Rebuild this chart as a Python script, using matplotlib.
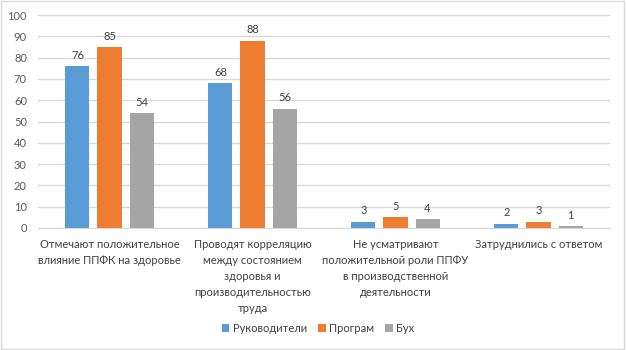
import matplotlib
matplotlib.use("Agg")
import matplotlib.pyplot as plt
import numpy as np
from matplotlib.patches import Rectangle

categories = [
    "Отмечают положительное\nвлияние ППФК на здоровье",
    "Проводят корреляцию\nмежду состоянием\nздоровья и\nпроизводительностью\nтруда",
    "Не усматривают\nположительной роли ППФУ\nв производственной\nдеятельности",
    "Затруднились с ответом",
]
series_names = ["Руководители", "Програм", "Бух"]
rukovoditeli = [76, 68, 3, 2]
program = [85, 88, 5, 3]
buh = [54, 56, 4, 1]
colors = ["#5B9BD5", "#ED7D31", "#A5A5A5"]
yticks = list(range(0, 101, 10))

plt.rcParams['font.family'] = ['Lato', 'DejaVu Sans']
fig = plt.figure(figsize=(6.26, 3.5), dpi=100)
ax = fig.add_axes([38/626, 1-228/350, (610-38)/626, (228-15)/350])

x = np.arange(len(categories))
w = 0.168
step = 0.224
for i, (vals, name, c) in enumerate(zip([rukovoditeli, program, buh], series_names, colors)):
    pos = x + (i - 1) * step
    bars = ax.bar(pos, vals, width=w, color=c, label=name, zorder=3)
    for p, v in zip(pos, vals):
        ax.text(p, v + 2.5, str(v), ha='center', va='bottom', fontsize=8, color='#404040')

ax.set_xlim(-0.5, len(categories) - 0.5)
ax.set_ylim(0, 100)
ax.set_yticks(yticks)
ax.set_xticks(x)
ax.set_xticklabels(categories, fontsize=8, color='#404040', linespacing=1.55)
ax.tick_params(axis='y', labelsize=8, labelcolor='#595959', length=0, pad=8)
ax.tick_params(axis='x', length=0, pad=8)
ax.grid(axis='y', color='#D9D9D9', linewidth=1, zorder=0)
for s in ['top', 'right', 'left']:
    ax.spines[s].set_visible(False)
ax.spines['bottom'].set_color('#D9D9D9')

leg = fig.legend(loc='center', bbox_to_anchor=(318/626, 1-328/350), ncol=3, frameon=False,
                 fontsize=8, handlelength=0.7, handleheight=0.7, handletextpad=0.3, columnspacing=1.0)
for t in leg.get_texts():
    t.set_color('#404040')

fig.patches.append(Rectangle((0.002, 0.003), 0.995, 0.994, transform=fig.transFigure,
                             fill=False, edgecolor='#D9D9D9', linewidth=1))
fig.savefig("out.png", dpi=100)
